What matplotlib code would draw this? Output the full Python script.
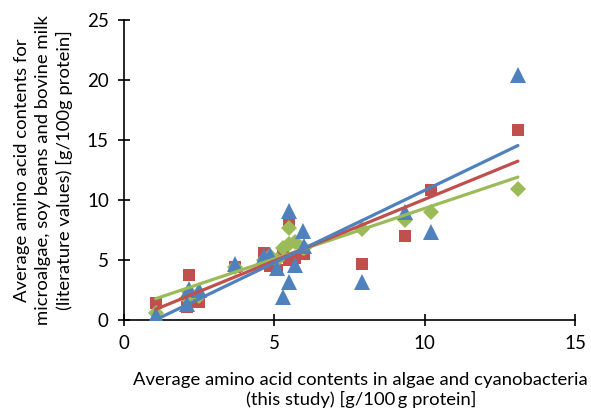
import numpy as np
import matplotlib
matplotlib.use("Agg")
import matplotlib.pyplot as plt

plt.rcParams['font.family'] = ['Lato', 'DejaVu Sans']

# x: this study; y: literature values for three references
x_vals = [1.05, 2.1, 2.15, 2.5, 3.7, 4.65, 4.85, 5.1, 5.3, 5.5, 5.5, 5.7, 5.95, 6.0, 7.9, 9.35, 10.2, 13.1]
red_vals = [1.45, 1.1, 3.75, 1.5, 4.4, 5.55, 4.5, 4.2, 5.55, 8.05, 5.0, 5.2, 5.7, 5.5, 4.7, 7.0, 10.8, 15.8]
blue_vals = [0.4, 1.3, 2.6, 2.5, 4.7, 5.3, 5.4, 4.3, 1.95, 9.1, 3.2, 4.6, 7.4, 6.2, 3.2, 9.0, 7.3, 20.4]
green_vals = [0.6, 1.8, 2.3, 2.0, 4.4, 5.0, 5.3, 5.0, 6.0, 7.7, 6.3, 6.5, 6.0, 6.0, 7.6, 8.3, 9.0, 10.9]

x_ticks = [0, 5, 10, 15]
y_ticks = [0, 5, 10, 15, 20, 25]

BLUE = '#4F81BD'
RED = '#C0504D'
GREEN = '#9BBB59'

fig = plt.figure(figsize=(5.91, 4.11), dpi=100)
ax = fig.add_axes([0.21, 0.2214, 0.763, 0.7296])

x = np.array(x_vals)
ax.plot(x, red_vals, 's', color=RED, markersize=9, markeredgewidth=0, zorder=3)
ax.plot(x, green_vals, 'D', color=GREEN, markersize=8.3, markeredgewidth=0, zorder=4)
ax.plot(x, blue_vals, '^', color=BLUE, markersize=11.5, markeredgewidth=0, zorder=5)

xs = np.array([x.min(), x.max()])
for vals, col, z in [(green_vals, GREEN, 6), (red_vals, RED, 7), (blue_vals, BLUE, 8)]:
    k, b = np.polyfit(x, vals, 1)
    ax.plot(xs, k * xs + b, '-', color=col, linewidth=2.3, zorder=z, solid_capstyle='round')

ax.set_xlim(0, 15)
ax.set_ylim(0, 25)
ax.set_xticks(x_ticks)
ax.set_yticks(y_ticks)
for s in ['top', 'right']:
    ax.spines[s].set_visible(False)
for s in ['left', 'bottom']:
    ax.spines[s].set_linewidth(1.2)
    ax.spines[s].set_color('black')
ax.tick_params(axis='both', direction='inout', length=8, width=1.2, labelsize=13.5, pad=7)

ax.set_xlabel('Average amino acid contents in algae and cyanobacteria\n(this study) [g/100\u2009g protein]',
              fontsize=13.3, labelpad=14, linespacing=1.22)
ax.xaxis.label.set_x(0.525)
ax.set_ylabel('Average amino acid contents for\nmicroalgae, soy beans and bovine milk\n(literature values) [g/100g protein]',
              fontsize=13.3, labelpad=10, linespacing=1.35)

fig.savefig('out.png', dpi=100)
